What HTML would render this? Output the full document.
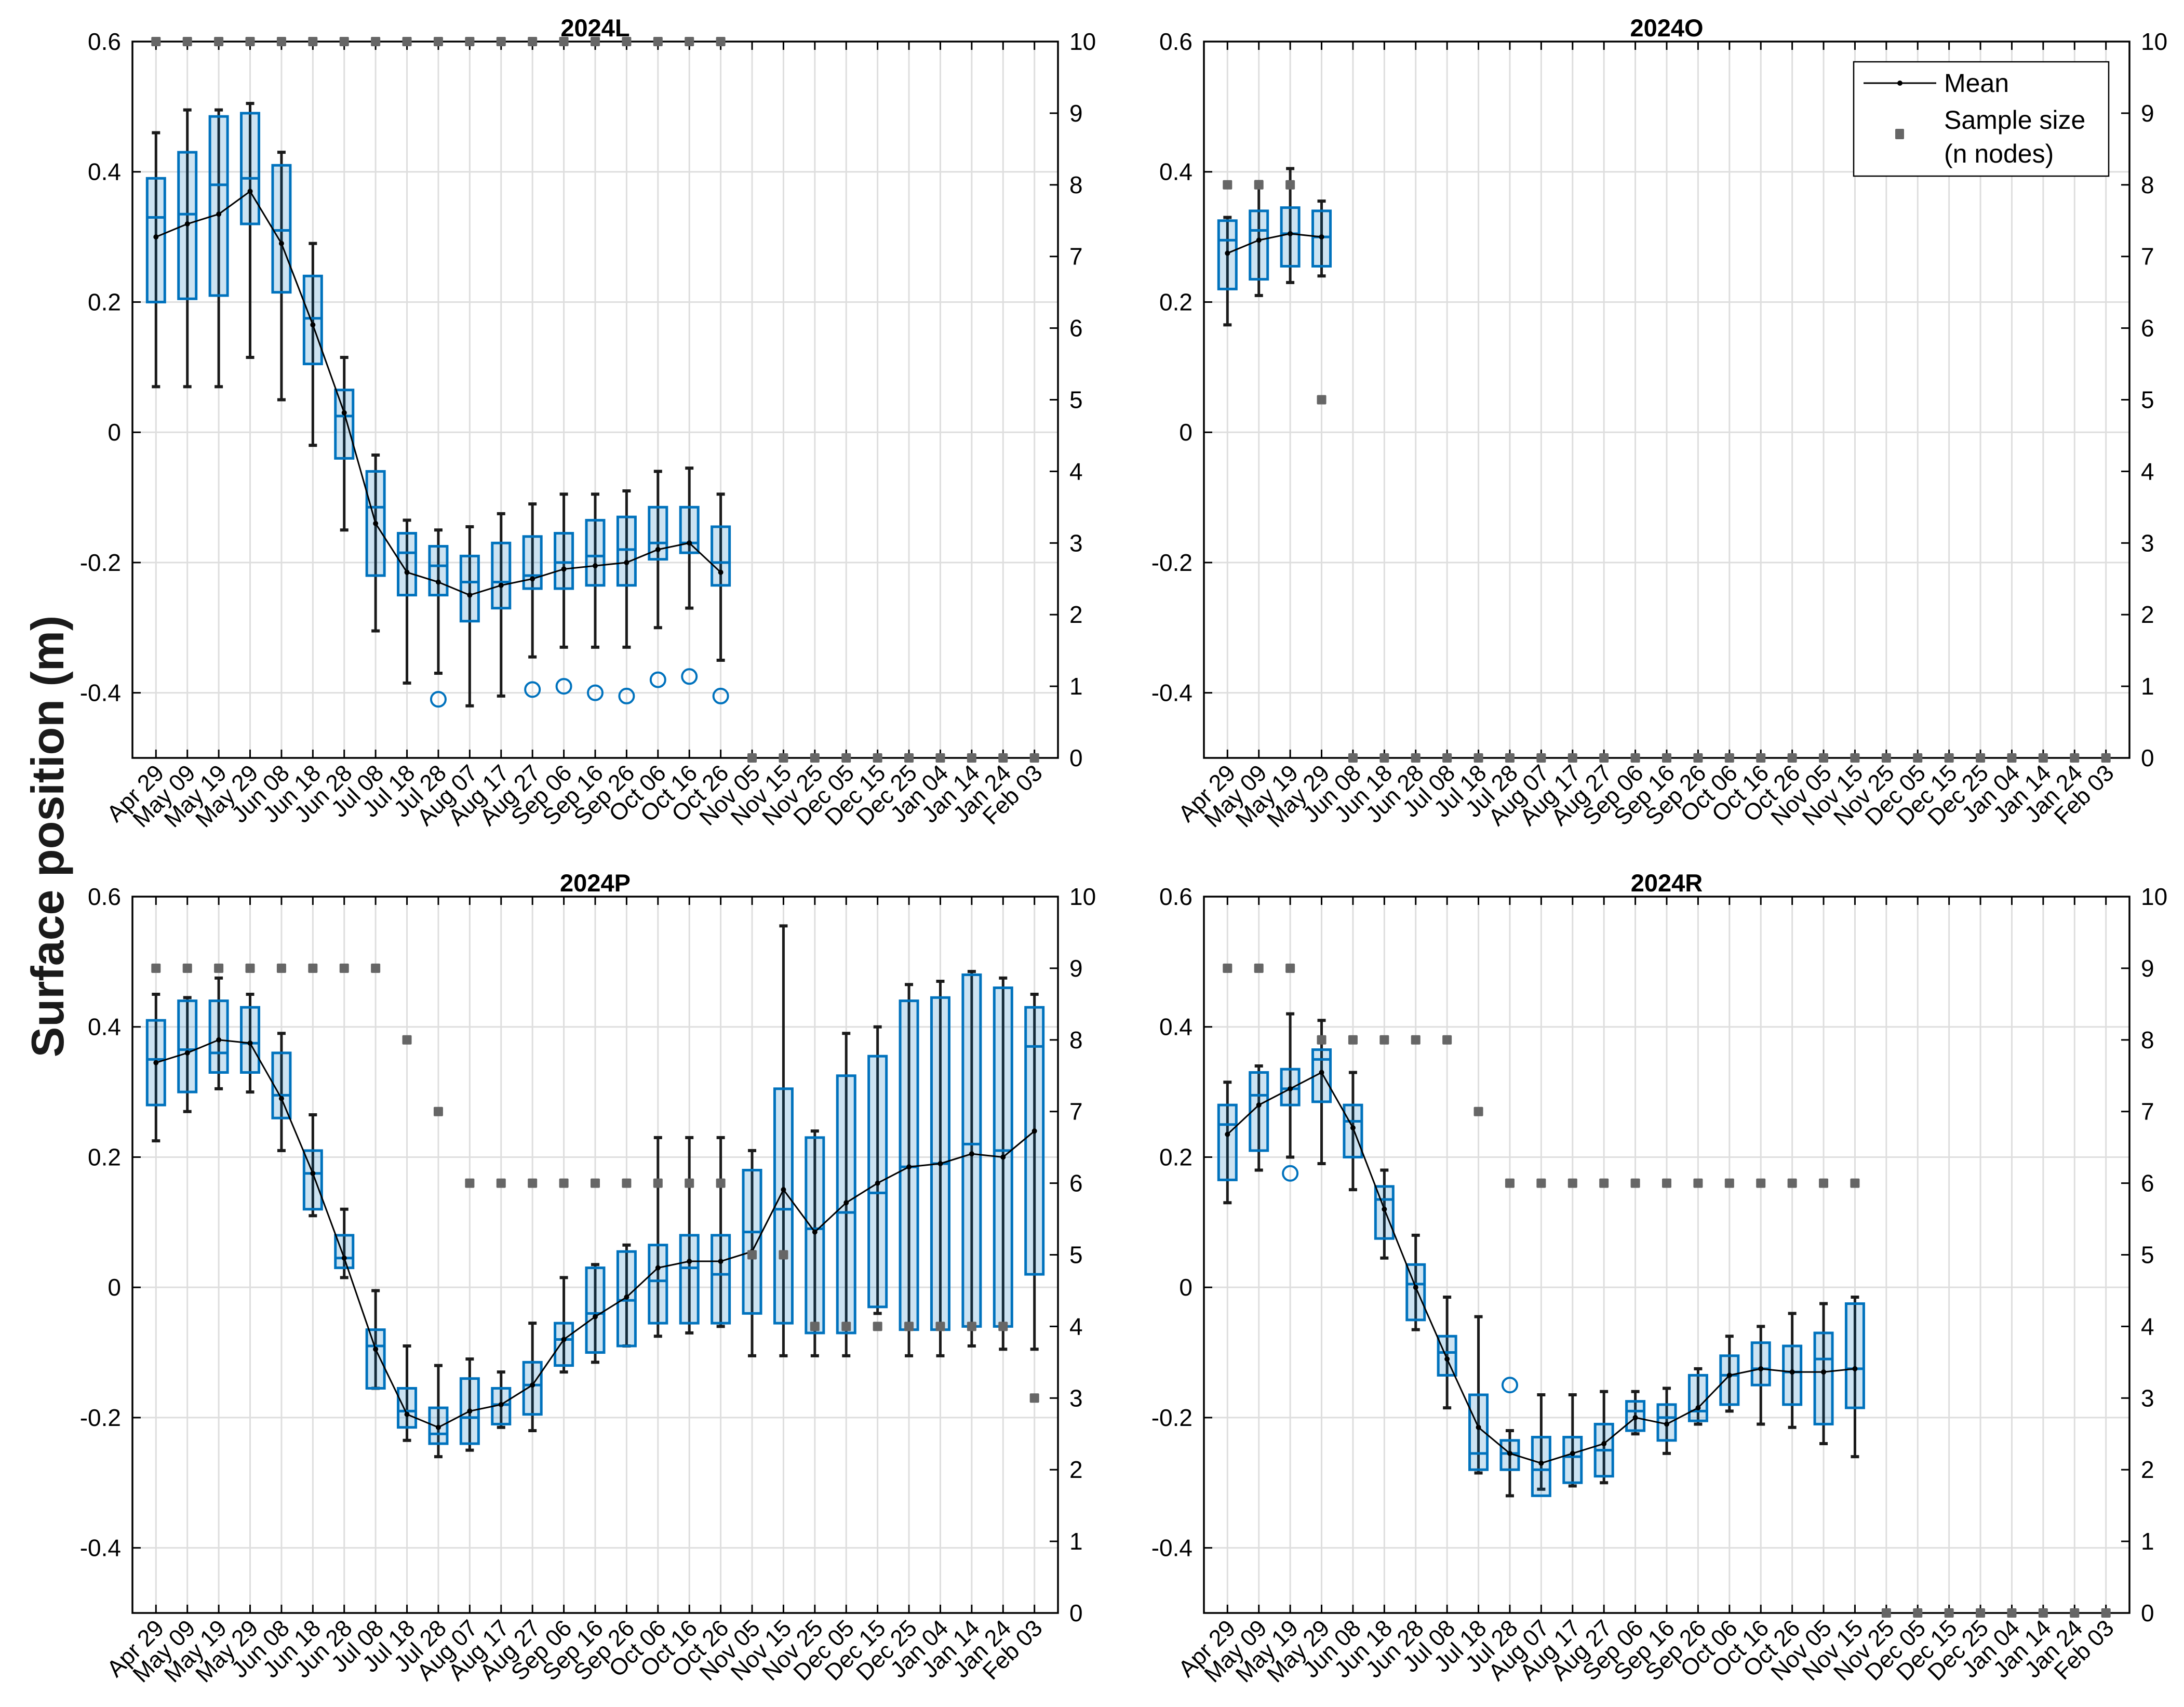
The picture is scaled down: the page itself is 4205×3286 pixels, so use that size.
<!DOCTYPE html>
<html><head><meta charset="utf-8"><style>
html,body{margin:0;padding:0;background:#fff}
svg{display:block;font-family:"Liberation Sans",Arial,sans-serif}
</style></head><body>
<svg id="fig" width="4205" height="3286" viewBox="0 0 4205 3286" xmlns="http://www.w3.org/2000/svg">
<text x="0" y="0" transform="translate(122,1610) rotate(-90)" text-anchor="middle" font-size="88" font-weight="bold" fill="#1a1a1a">Surface position (m)</text>
</svg>
<script>
const categories=["Apr 29","May 09","May 19","May 29","Jun 08","Jun 18","Jun 28","Jul 08","Jul 18","Jul 28","Aug 07","Aug 17","Aug 27","Sep 06","Sep 16","Sep 26","Oct 06","Oct 16","Oct 26","Nov 05","Nov 15","Nov 25","Dec 05","Dec 15","Dec 25","Jan 04","Jan 14","Jan 24","Feb 03"];
const leftTicks=[-0.4,-0.2,0,0.2,0.4,0.6];
const rightTicks=[0,1,2,3,4,5,6,7,8,9,10];
// 2024L
const L_whiskHi=[0.46,0.495,0.495,0.505,0.43,0.29,0.115,-0.035,-0.135,-0.15,-0.145,-0.125,-0.11,-0.095,-0.095,-0.09,-0.06,-0.055,-0.095];
const L_whiskLo=[0.07,0.07,0.07,0.115,0.05,-0.02,-0.15,-0.305,-0.385,-0.37,-0.42,-0.405,-0.345,-0.33,-0.33,-0.33,-0.3,-0.27,-0.35];
const L_q3=[0.39,0.43,0.485,0.49,0.41,0.24,0.065,-0.06,-0.155,-0.175,-0.19,-0.17,-0.16,-0.155,-0.135,-0.13,-0.115,-0.115,-0.145];
const L_q1=[0.20,0.205,0.21,0.32,0.215,0.105,-0.04,-0.22,-0.25,-0.25,-0.29,-0.27,-0.24,-0.24,-0.235,-0.235,-0.195,-0.185,-0.235];
const L_med=[0.33,0.335,0.38,0.39,0.31,0.175,0.025,-0.115,-0.185,-0.205,-0.23,-0.23,-0.22,-0.2,-0.19,-0.18,-0.17,-0.17,-0.2];
const L_mean=[0.30,0.32,0.335,0.37,0.29,0.165,0.03,-0.14,-0.215,-0.23,-0.25,-0.235,-0.225,-0.21,-0.205,-0.2,-0.18,-0.17,-0.215];
const L_outIdx=[9,12,13,14,15,16,17,18];
const L_outVal=[-0.41,-0.395,-0.39,-0.4,-0.405,-0.38,-0.375,-0.405];
const L_n=[10,10,10,10,10,10,10,10,10,10,10,10,10,10,10,10,10,10,10,0,0,0,0,0,0,0,0,0,0];
// 2024O
const O_whiskHi=[0.33,0.385,0.405,0.355];
const O_whiskLo=[0.165,0.21,0.23,0.24];
const O_q3=[0.325,0.34,0.345,0.34];
const O_q1=[0.22,0.235,0.255,0.255];
const O_med=[0.295,0.31,0.305,0.3];
const O_mean=[0.275,0.295,0.305,0.3];
const O_outIdx=[];
const O_outVal=[];
const O_n=[8,8,8,5,0,0,0,0,0,0,0,0,0,0,0,0,0,0,0,0,0,0,0,0,0,0,0,0,0];
// 2024P
const P_whiskHi=[0.45,0.445,0.475,0.45,0.39,0.265,0.12,-0.005,-0.09,-0.12,-0.11,-0.13,-0.055,0.015,0.035,0.065,0.23,0.23,0.23,0.21,0.555,0.24,0.39,0.4,0.465,0.47,0.485,0.475,0.45];
const P_whiskLo=[0.225,0.27,0.305,0.30,0.21,0.11,0.015,-0.155,-0.235,-0.26,-0.25,-0.215,-0.22,-0.13,-0.115,-0.09,-0.075,-0.07,-0.06,-0.105,-0.105,-0.105,-0.105,-0.04,-0.105,-0.105,-0.09,-0.095,-0.095];
const P_q3=[0.41,0.44,0.44,0.43,0.36,0.21,0.08,-0.065,-0.155,-0.185,-0.14,-0.155,-0.115,-0.055,0.03,0.055,0.065,0.08,0.08,0.18,0.305,0.23,0.325,0.355,0.44,0.445,0.48,0.46,0.43];
const P_q1=[0.28,0.30,0.33,0.33,0.26,0.12,0.03,-0.155,-0.215,-0.24,-0.24,-0.21,-0.195,-0.12,-0.1,-0.09,-0.055,-0.055,-0.055,-0.04,-0.055,-0.07,-0.07,-0.03,-0.065,-0.065,-0.06,-0.06,0.02];
const P_med=[0.35,0.365,0.36,0.375,0.295,0.175,0.045,-0.09,-0.19,-0.225,-0.2,-0.18,-0.15,-0.08,-0.04,-0.02,0.01,0.03,0.02,0.085,0.12,0.09,0.115,0.145,0.185,0.19,0.22,0.21,0.37];
const P_mean=[0.345,0.36,0.38,0.375,0.29,0.175,0.045,-0.095,-0.195,-0.215,-0.19,-0.18,-0.15,-0.08,-0.045,-0.015,0.03,0.04,0.04,0.055,0.15,0.085,0.13,0.16,0.185,0.19,0.205,0.2,0.24];
const P_outIdx=[];
const P_outVal=[];
const P_n=[9,9,9,9,9,9,9,9,8,7,6,6,6,6,6,6,6,6,6,5,5,4,4,4,4,4,4,4,3];
// 2024R
const R_whiskHi=[0.315,0.34,0.42,0.41,0.33,0.18,0.08,-0.015,-0.045,-0.22,-0.165,-0.165,-0.16,-0.16,-0.155,-0.125,-0.075,-0.06,-0.04,-0.025,-0.015];
const R_whiskLo=[0.13,0.18,0.2,0.19,0.15,0.045,-0.065,-0.185,-0.285,-0.32,-0.31,-0.305,-0.3,-0.225,-0.255,-0.21,-0.19,-0.21,-0.215,-0.24,-0.26];
const R_q3=[0.28,0.33,0.335,0.365,0.28,0.155,0.035,-0.075,-0.165,-0.235,-0.23,-0.23,-0.21,-0.175,-0.18,-0.135,-0.105,-0.085,-0.09,-0.07,-0.025];
const R_q1=[0.165,0.21,0.28,0.285,0.2,0.075,-0.05,-0.135,-0.28,-0.28,-0.32,-0.3,-0.29,-0.22,-0.235,-0.205,-0.18,-0.15,-0.18,-0.21,-0.185];
const R_med=[0.25,0.295,0.305,0.35,0.255,0.135,0.005,-0.1,-0.255,-0.255,-0.28,-0.26,-0.25,-0.19,-0.2,-0.19,-0.135,-0.125,-0.13,-0.11,-0.125];
const R_mean=[0.235,0.28,0.305,0.33,0.245,0.12,0.0,-0.11,-0.215,-0.255,-0.27,-0.255,-0.24,-0.2,-0.21,-0.185,-0.135,-0.125,-0.13,-0.13,-0.125];
const R_outIdx=[2,9];
const R_outVal=[0.175,-0.15];
const R_n=[9,9,9,8,8,8,8,8,7,6,6,6,6,6,6,6,6,6,6,6,6,0,0,0,0,0,0,0,0];

const NS="http://www.w3.org/2000/svg";
const svg=document.getElementById('fig');
function mk(tag,attrs,parent){const e=document.createElementNS(NS,tag);for(const k in attrs)e.setAttribute(k,attrs[k]);(parent||svg).appendChild(e);return e;}

const panels=[
 {title:"2024L",x0:255,x1:2037,y0:80,y1:1459,hi:L_whiskHi,lo:L_whiskLo,q3:L_q3,q1:L_q1,med:L_med,mean:L_mean,oi:L_outIdx,ov:L_outVal,n:L_n,legend:false},
 {title:"2024O",x0:2318,x1:4100,y0:80,y1:1459,hi:O_whiskHi,lo:O_whiskLo,q3:O_q3,q1:O_q1,med:O_med,mean:O_mean,oi:O_outIdx,ov:O_outVal,n:O_n,legend:true},
 {title:"2024P",x0:255,x1:2037,y0:1726,y1:3105,hi:P_whiskHi,lo:P_whiskLo,q3:P_q3,q1:P_q1,med:P_med,mean:P_mean,oi:P_outIdx,ov:P_outVal,n:P_n,legend:false},
 {title:"2024R",x0:2318,x1:4100,y0:1726,y1:3105,hi:R_whiskHi,lo:R_whiskLo,q3:R_q3,q1:R_q1,med:R_med,mean:R_mean,oi:R_outIdx,ov:R_outVal,n:R_n,legend:false}
];

panels.forEach(p=>{
 const g=mk('g',{});
 
 
 const xs=i=>p.x0+(i+0.75)*(p.x1-p.x0)/29.5;
 const ys=v=>p.y1-(v+0.5)/1.1*(p.y1-p.y0);
 const yr=v=>p.y1-v/10*(p.y1-p.y0);
 categories.forEach((c,i)=>{const l=mk('line',{x1:xs(i),x2:xs(i),y1:p.y0,y2:p.y1,stroke:'#dedede','stroke-width':3},g);
  });
 leftTicks.forEach(t=>{const l=mk('line',{x1:p.x0,x2:p.x1,y1:ys(t),y2:ys(t),stroke:'#dedede','stroke-width':3},g);
  });
 const ax=mk('rect',{x:p.x0,y:p.y0,width:p.x1-p.x0,height:p.y1-p.y0,fill:'none',stroke:'#000','stroke-width':3.5},g);
 
 categories.forEach((c,i)=>{
  mk('line',{x1:xs(i),x2:xs(i),y1:p.y1,y2:p.y1-16,stroke:'#000','stroke-width':3},g);
  mk('line',{x1:xs(i),x2:xs(i),y1:p.y0,y2:p.y0+16,stroke:'#000','stroke-width':3},g);
  const t=mk('text',{x:0,y:0,transform:`translate(${xs(i)+18},${p.y1+32}) rotate(-45)`,'text-anchor':'end','font-size':45,fill:'#000'},g);
  t.textContent=c;
  
 });
 leftTicks.forEach(v=>{
  mk('line',{x1:p.x0,x2:p.x0+16,y1:ys(v),y2:ys(v),stroke:'#000','stroke-width':3},g);
  const t=mk('text',{x:p.x0-22,y:ys(v)+16,'text-anchor':'end','font-size':46,fill:'#000'},g);
  t.textContent=(v===0?'0':v.toFixed(1));
  
 });
 rightTicks.forEach(v=>{
  mk('line',{x1:p.x1,x2:p.x1-16,y1:yr(v),y2:yr(v),stroke:'#000','stroke-width':3},g);
  const t=mk('text',{x:p.x1+22,y:yr(v)+16,'text-anchor':'start','font-size':46,fill:'#000'},g);
  t.textContent=String(v);
  
 });
 const tt=mk('text',{x:(p.x0+p.x1)/2,y:p.y0-10,'text-anchor':'middle','font-size':47,'font-weight':'bold',fill:'#000'},g);
 tt.textContent=p.title;
 
 const bw=34;
 p.hi.forEach((h,i)=>{
  const x=xs(i);
  const w=mk('line',{x1:x,x2:x,y1:ys(h),y2:ys(p.lo[i]),stroke:'#1a1a1a','stroke-width':5},g);
  
  mk('line',{x1:x-8,x2:x+8,y1:ys(h),y2:ys(h),stroke:'#1a1a1a','stroke-width':6},g);
  mk('line',{x1:x-8,x2:x+8,y1:ys(p.lo[i]),y2:ys(p.lo[i]),stroke:'#1a1a1a','stroke-width':6},g);
  const b=mk('rect',{x:x-bw/2,y:ys(p.q3[i]),width:bw,height:ys(p.q1[i])-ys(p.q3[i]),fill:'rgba(0,114,189,0.2)',stroke:'#0072BD','stroke-width':5},g);
  
  const m=mk('line',{x1:x-bw/2,x2:x+bw/2,y1:ys(p.med[i]),y2:ys(p.med[i]),stroke:'#0072BD','stroke-width':5},g);
  
 });
 p.oi.forEach((idx,k)=>{
  const c=mk('circle',{cx:xs(idx),cy:ys(p.ov[k]),r:14,fill:'none',stroke:'#0072BD','stroke-width':4},g);
  
 });
 const pts=p.mean.map((v,i)=>xs(i)+','+ys(v)).join(' ');
 const pl=mk('polyline',{points:pts,fill:'none',stroke:'#000','stroke-width':3},g);
 
 p.mean.forEach((v,i)=>{const d=mk('circle',{cx:xs(i),cy:ys(v),r:5,fill:'#000'},g);
  });
 p.n.forEach((v,i)=>{const s=mk('rect',{x:xs(i)-9,y:yr(v)-9,width:18,height:18,rx:2,fill:'#666'},g);
  });
 if(p.legend){
  const lg=mk('g',{},g);
  
  mk('rect',{x:3569,y:119,width:491,height:220,fill:'#fff',stroke:'#000','stroke-width':2.5},lg);
  mk('line',{x1:3588,x2:3728,y1:160,y2:160,stroke:'#000','stroke-width':3},lg);
  mk('circle',{cx:3658,cy:160,r:5,fill:'#000'},lg);
  const t1=mk('text',{x:3743,y:177,'font-size':50,fill:'#000'},lg);t1.textContent='Mean';
  
  mk('rect',{x:3649,y:248,width:17,height:20,rx:2,fill:'#666'},lg);
  const t2=mk('text',{x:3743,y:248,'font-size':50,fill:'#000'},lg);t2.textContent='Sample size';
  
  const t3=mk('text',{x:3743,y:313,'font-size':50,fill:'#000'},lg);t3.textContent='(n nodes)';
  
 }
});
</script>
</body></html>
